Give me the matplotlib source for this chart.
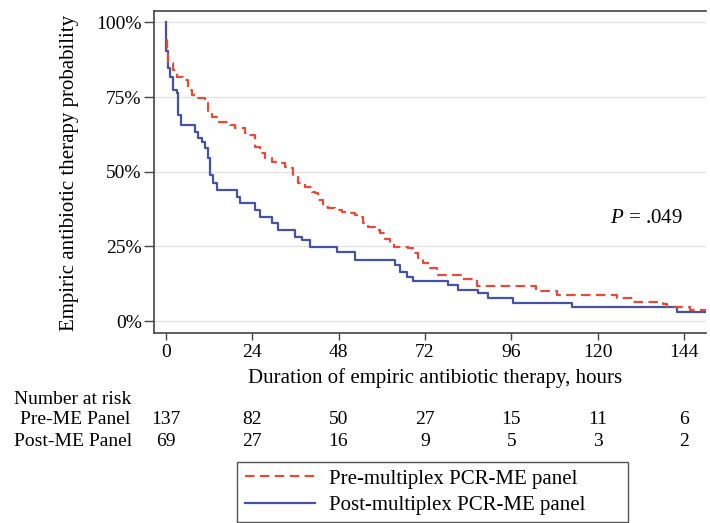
import matplotlib
matplotlib.use("Agg")
import matplotlib.pyplot as plt
import matplotlib.transforms as mtransforms
from matplotlib.lines import Line2D
from matplotlib.patches import Rectangle

plt.rcParams['font.family'] = ['Liberation Serif', 'DejaVu Serif']
plt.rcParams['mathtext.fontset'] = 'custom'
plt.rcParams['mathtext.it'] = 'Liberation Serif:italic'
plt.rcParams['mathtext.rm'] = 'Liberation Serif'

# Kaplan-Meier steps (hours, %)
pre_t = [0, 0.3, 0.7, 2.1, 3, 4.9, 6.3, 7.2, 9, 10.9, 11.8, 12.8, 14.2, 17.9, 19.3,
         22, 23.4, 24.8, 26.2, 27.6, 29.4, 31.3, 33.1, 34, 35.4, 36.8, 38.7, 40.6,
         41.5, 42.4, 43.8, 45.2, 47, 48.9, 50.3, 52.6, 53.5, 54.9, 56.3, 58.1, 59.5,
         61, 62.3, 63.5, 67.4, 68.8, 70.2, 71.6, 73.4, 75.3, 82.7, 86.4, 103, 108.6,
         125.3, 129.9, 138.2, 139.2, 145.6, 150]
pre_s = [94, 90, 86.3, 84, 81.8, 80.7, 77.4, 75.7, 74.6, 72.9, 70.1, 68.4, 66.8, 65.7,
         64.6, 62.9, 62.3, 58.4, 56.2, 54.5, 53.4, 52.8, 51.7, 51.2, 48.3, 46.1, 45,
         43.3, 42.8, 40.5, 38.3, 37.7, 37.2, 36.6, 36.1, 35.5, 34.9, 32.7, 31.6, 30.5,
         29.4, 27.5, 26, 24.9, 24.4, 22.7, 21, 19.3, 17.7, 15.4, 14, 11.8, 10.1, 8.7,
         7.6, 6.5, 5.6, 4.8, 3.7, 3.7]

post_t = [0, 0.2, 0.5, 1.2, 2.1, 3, 3.5, 4.2, 8.1, 9, 10, 10.9, 11.8, 12.3, 13.2, 14.2,
          19.7, 20.6, 24.8, 26.2, 29.4, 31.3, 35.9, 37.8, 40.1, 47.5, 52.6, 63.7, 65.1,
          66.9, 68.8, 78.5, 81.3, 86.8, 89.6, 96.6, 112.8, 142, 150]
post_s = [100, 90.6, 84.6, 81.8, 77.4, 76.3, 69, 65.7, 63.4, 61.2, 60, 57.8, 54.5, 48.9,
          46.1, 43.9, 41.6, 39.4, 37.2, 34.9, 32.7, 30.5, 28.2, 27.1, 24.9, 23.2, 20.6,
          18.8, 16.5, 14.8, 13.5, 12.1, 10.4, 9.3, 7.6, 5.9, 4.8, 3.1, 3.1]

risk_times = [0, 24, 48, 72, 96, 120, 144]
risk_pre = [137, 82, 50, 27, 15, 11, 6]
risk_post = [69, 27, 16, 9, 5, 3, 2]

pre_label = "Pre-multiplex PCR-ME panel"
post_label = "Post-multiplex PCR-ME panel"
red = "#e64a38"
blue = "#4752a6"

W, H = 710, 523
fs = 14     # ticks, risk table
fs_lab = 15  # axis titles, legend, p-value


def fy(px):
    return 1 - px / H


fig = plt.figure(figsize=(W / 100, H / 100), dpi=100)
ax = fig.add_axes([153.5 / W, fy(332.5), (706 - 153.5) / W, (332.5 - 11) / H])

ax.step(post_t, post_s, where="post", color=blue, lw=1.6)
ax.step(pre_t, pre_s, where="post", color=red, lw=1.6, linestyle=(0, (4.3, 2.4)))

ax.set_xlim(-3.4, 150.1)
ax.set_ylim(-3.85, 103.85)
ax.set_xticks(risk_times)
ax.set_yticks([0, 25, 50, 75, 100])
ax.set_yticklabels(["0%", "25%", "50%", "75%", "100%"])
ax.grid(axis="y", color="#e2e2e2", lw=1)
ax.set_axisbelow(True)
for side in ["left", "bottom", "top"]:
    ax.spines[side].set_color("#444444")
    ax.spines[side].set_linewidth(1.2)
ax.spines["right"].set_visible(False)
ax.tick_params(axis="y", direction="out", length=7, width=1, color="#444444",
               labelsize=fs, pad=1.5)
ax.tick_params(axis="x", direction="out", length=5, width=1, color="#444444",
               labelsize=fs, pad=3)

ax.text(123.4, 34.5, r"$P$ = .049", fontsize=fs_lab, ha="left", va="center")

fig.text(70 / W, fy(173), "Empiric antibiotic therapy probability", rotation=90,
         ha="center", va="center", fontsize=fs_lab)
fig.text(435 / W, fy(378), "Duration of empiric antibiotic therapy, hours",
         ha="center", va="center", fontsize=fs_lab)

# number at risk table
fig.text(14 / W, fy(399), "Number at risk", ha="left", va="center", fontsize=fs)
fig.text(20 / W, fy(420), "Pre-ME Panel", ha="left", va="center", fontsize=fs)
fig.text(14 / W, fy(442), "Post-ME Panel", ha="left", va="center", fontsize=fs)
trans = mtransforms.blended_transform_factory(ax.transData, fig.transFigure)
for t, a, b in zip(risk_times, risk_pre, risk_post):
    fig.text(t, fy(420), str(a), transform=trans, ha="center", va="center", fontsize=fs)
    fig.text(t, fy(442), str(b), transform=trans, ha="center", va="center", fontsize=fs)

# legend box
fig.patches.append(Rectangle((237 / W, fy(522)), (628 - 237) / W, (522 - 462) / H,
                             transform=fig.transFigure, fill=False,
                             edgecolor="#555555", lw=1))
handles = [Line2D([], [], color=red, lw=1.6, linestyle=(0, (4.3, 2.4))),
           Line2D([], [], color=blue, lw=1.6)]
fig.legend(handles, [pre_label, post_label], loc="upper left",
           bbox_to_anchor=(245 / W, fy(469)), frameon=False, fontsize=fs_lab,
           handlelength=3.35, handletextpad=0.7, labelspacing=0.35, borderpad=0,
           borderaxespad=0)

fig.savefig("out.png", dpi=100)
